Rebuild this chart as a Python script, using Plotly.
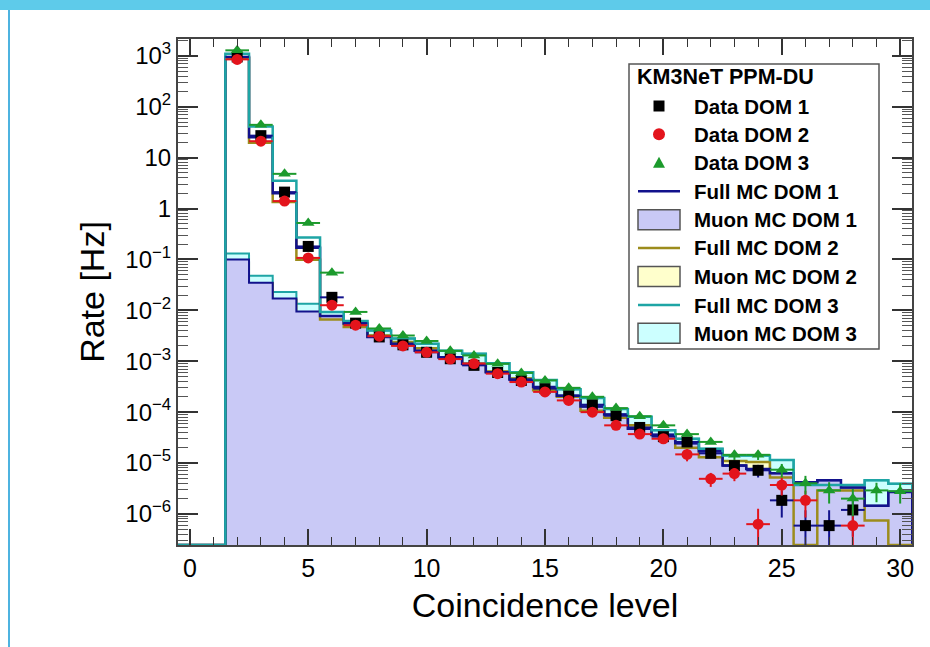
import numpy as np
import plotly.graph_objects as go

# ---------------- data (bin centres = coincidence level) ----------------
levels = list(range(31))

data_dom1 = [None, None, 950, 27, 2.1, 0.18, 0.018, 0.0056, 0.0030, 0.0021, 0.0015,
             0.00112, 0.00083, 0.00060, 0.00042, 0.00029, 0.00021, 0.00014, 8.5e-5, 5.0e-5, 3.3e-5,
             2.6e-5, 1.55e-5, 8.9e-6, 7.2e-6, 1.85e-6, 5.9e-7, 5.9e-7, 1.2e-6, None, None]
data_dom2 = [None, None, 850, 21, 1.4, 0.107, 0.0126, 0.0051, 0.0031, 0.0020, 0.0015,
             0.0011, 0.00090, 0.00057, 0.00039, 0.00025, 0.00017, 0.00010, 5.5e-5, 3.7e-5, 3.0e-5,
             1.48e-5, 4.9e-6, 6.2e-6, 6.3e-7, 3.7e-6, 1.85e-6, None, 5.9e-7, None, None]
data_dom3 = [None, None, 1280, 44, 4.8, 0.52, 0.055, 0.0093, 0.0044, 0.0032, 0.0025,
             0.0016, 0.0013, 0.00089, 0.00059, 0.00042, 0.00030, 0.00020, 0.00012, 8.3e-5, 5.5e-5,
             3.7e-5, 2.6e-5, 1.45e-5, 1.45e-5, 7.4e-6, 4.0e-6, 2.9e-6, 2.0e-6, 2.9e-6, 2.8e-6]

err_dom1 = [0, 0, 0, 0, 0, 0, 0, 0, 0, 0, 0,
            0, 0, 0, 0, 0, 0, 0, 0, 0, 0,
            0, 3.0e-6, 2.3e-6, 2.0e-6, 1.0e-6, 5.9e-7, 5.9e-7, 8.4e-7, 0, 0]
err_dom2 = [0, 0, 0, 0, 0, 0, 0, 0, 0, 0, 0,
            0, 0, 0, 0, 0, 0, 0, 0, 0, 0,
            4.0e-6, 1.5e-6, 1.8e-6, 6.3e-7, 1.4e-6, 1.0e-6, 0, 5.9e-7, 0, 0]
err_dom3 = [0, 0, 0, 0, 0, 0, 0, 0, 0, 0, 0,
            0, 0, 0, 0, 0, 0, 0, 0, 0, 0,
            0, 0, 3.0e-6, 3.0e-6, 2.2e-6, 1.6e-6, 1.3e-6, 1.1e-6, 1.2e-6, 1.2e-6]

full_mc_dom1 = [0, 0, 950, 25, 2.0, 0.17, 0.0077, 0.0055, 0.0030, 0.0022, 0.0016,
                0.0012, 0.00088, 0.00061, 0.00044, 0.00031, 0.00021, 0.000129, 9.0e-5, 4.7e-5, 3.6e-5,
                2.45e-5, 1.7e-5, 8.9e-6, 7.6e-6, 6.3e-6, 4.2e-6, 4.6e-6, 3.3e-6, 1.45e-6, 2.7e-6]
full_mc_dom2 = [0, 0, 900, 19.5, 1.35, 0.098, 0.0066, 0.0047, 0.0032, 0.0024, 0.0018,
                0.0012, 0.00089, 0.00063, 0.00046, 0.00027, 0.00020, 0.000107, 7.8e-5, 5.5e-5, 3.5e-5,
                2.0e-5, 1.3e-5, 1.1e-5, 1.05e-5, 5.2e-6, 0, 2.9e-6, 2.9e-6, 7.4e-7, 0]
full_mc_dom3 = [0, 0, 1100, 41, 3.5, 0.27, 0.0093, 0.0062, 0.0040, 0.0028, 0.0022,
                0.0016, 0.0014, 0.00091, 0.00061, 0.00043, 0.00028, 0.00019, 0.000115, 8.1e-5, 4.4e-5,
                3.0e-5, 1.9e-5, 1.4e-5, 1.4e-5, 1.15e-5, 3.7e-6, 3.7e-6, 3.7e-6, 4.6e-6, 3.9e-6]

muon_mc_dom1 = [0, 0, 0.10, 0.035, 0.017, 0.0095, 0.0077, 0.0055, 0.0030, 0.0022, 0.0016,
                0.0012, 0.00088, 0.00061, 0.00044, 0.00031, 0.00021, 0.000129, 9.0e-5, 4.7e-5, 3.6e-5,
                2.45e-5, 1.7e-5, 8.9e-6, 7.6e-6, 6.3e-6, 4.2e-6, 4.6e-6, 3.3e-6, 1.45e-6, 2.7e-6]
muon_mc_dom2 = [0, 0, 0.095, 0.034, 0.016, 0.009, 0.0066, 0.0047, 0.0032, 0.0024, 0.0018,
                0.0012, 0.00089, 0.00063, 0.00046, 0.00027, 0.00020, 0.000107, 7.8e-5, 5.5e-5, 3.5e-5,
                2.0e-5, 1.3e-5, 1.1e-5, 1.05e-5, 5.2e-6, 0, 2.9e-6, 2.9e-6, 7.4e-7, 0]
muon_mc_dom3 = [0, 0, 0.13, 0.048, 0.023, 0.0135, 0.0093, 0.0062, 0.0040, 0.0028, 0.0022,
                0.0016, 0.0014, 0.00091, 0.00061, 0.00043, 0.00028, 0.00019, 0.000115, 8.1e-5, 4.4e-5,
                3.0e-5, 1.9e-5, 1.4e-5, 1.4e-5, 1.15e-5, 3.7e-6, 3.7e-6, 3.7e-6, 4.6e-6, 3.9e-6]

x_tick_vals = [0, 5, 10, 15, 20, 25, 30]
y_tick_vals = [1e-6, 1e-5, 1e-4, 1e-3, 1e-2, 1e-1, 1, 10, 1e2, 1e3]
y_tick_text = ["10<sup>\u22126</sup>", "10<sup>\u22125</sup>", "10<sup>\u22124</sup>",
               "10<sup>\u22123</sup>", "10<sup>\u22122</sup>", "10<sup>\u22121</sup>",
               "1", "10", "10<sup>2</sup>", "10<sup>3</sup>"]

legend_title = "KM3NeT PPM-DU"
legend_labels = ["Data DOM 1", "Data DOM 2", "Data DOM 3",
                 "Full MC DOM 1", "Muon MC DOM 1", "Full MC DOM 2",
                 "Muon MC DOM 2", "Full MC DOM 3", "Muon MC DOM 3"]

# ---------------- style ----------------
W, H = 930, 647
ML, MR, MT, MB = 178, 18, 39, 102
X_RANGE = [-0.5, 30.5]
Y_RANGE = [-6.61, 3.33]

NAVY = "#12128c"
OLIVE = "#9c8c1c"
TEAL = "#1ea5a5"
RED = "#e3141c"
GREEN = "#1c9a2c"
LAV = "#c9c9f6"
LYEL = "#ffffcc"
LCYA = "#ccffff"
FONT = "Liberation Sans, Arial, Helvetica, sans-serif"

edges = np.arange(X_RANGE[0], X_RANGE[1] + 0.001, 1.0)
floor_line = 10 ** Y_RANGE[0]
floor_fill = 10 ** (Y_RANGE[0] - 1)


def steps(vals, floor):
    xs, ys = [], []
    for i, v in enumerate(vals):
        v = v if v > 0 else floor
        xs += [edges[i], edges[i + 1]]
        ys += [v, v]
    return xs, ys


fig = go.Figure()

# muon MC filled histograms (drawn first)
for vals, fc, lc in [(muon_mc_dom3, LCYA, TEAL), (muon_mc_dom2, LYEL, OLIVE), (muon_mc_dom1, LAV, NAVY)]:
    xs, ys = steps(vals, floor_fill)
    xs = xs + [edges[-1], edges[0]]
    ys = ys + [floor_fill, floor_fill]
    fig.add_trace(go.Scatter(x=xs, y=ys, mode="lines", fill="toself", fillcolor=fc,
                             line=dict(color=lc, width=2), showlegend=False, hoverinfo="skip"))

# full MC step lines
for vals, lc in [(full_mc_dom2, OLIVE), (full_mc_dom1, NAVY), (full_mc_dom3, TEAL)]:
    xs, ys = steps(vals, floor_line)
    fig.add_trace(go.Scatter(x=xs, y=ys, mode="lines", line=dict(color=lc, width=2.5),
                             showlegend=False))

# data points
for vals, errs, mc, ec, sym in [
        (data_dom1, err_dom1, "black", NAVY, "square"),
        (data_dom2, err_dom2, RED, RED, "circle"),
        (data_dom3, err_dom3, GREEN, GREEN, "triangle-up")]:
    fig.add_trace(go.Scatter(
        x=levels, y=vals, mode="markers", showlegend=False,
        marker=dict(symbol=sym, size=11, color=mc, line=dict(width=0)),
        error_y=dict(type="data", array=errs, visible=True, color=ec, thickness=2, width=0),
        error_x=dict(type="constant", value=0.5, visible=True, color=ec, thickness=2, width=0)))

minor_y = [m * 10.0 ** k for k in range(-7, 4) for m in range(2, 10)]

fig.update_layout(
    width=W, height=H,
    margin=dict(l=ML, r=MR, t=MT, b=MB, pad=0),
    paper_bgcolor="white", plot_bgcolor="white",
    font=dict(family=FONT, color="black"),
    showlegend=False,
    xaxis=dict(range=X_RANGE, tickvals=x_tick_vals, ticks="inside", ticklen=16, tickwidth=1.5,
               tickcolor="#333333", showline=True, linecolor="#444444", linewidth=2, mirror="allticks",
               showgrid=False, zeroline=False, tickfont=dict(size=25, family=FONT),
               minor=dict(dtick=1, ticks="inside", ticklen=8, tickwidth=1.2, tickcolor="#333333", showgrid=False),
               title=dict(text="Coincidence level", font=dict(size=34, family=FONT), standoff=12)),
    yaxis=dict(type="log", range=Y_RANGE, tickvals=y_tick_vals, ticktext=y_tick_text,
               ticks="inside", ticklen=20, tickwidth=1.5, tickcolor="#333333",
               showline=True, linecolor="#444444", linewidth=2, mirror="allticks",
               showgrid=False, zeroline=False, tickfont=dict(size=24, family=FONT),
               minor=dict(tickvals=minor_y, ticks="inside", ticklen=10, tickwidth=1.2,
                          tickcolor="#555555", showgrid=False),
               title=dict(text="Rate [Hz]", font=dict(size=34, family=FONT), standoff=10)),
)

pw, ph = W - ML - MR, H - MT - MB
def px2x(px): return (px - ML) / pw
def py2y(py): return (H - MB - py) / ph

# ---------------- hand-built legend (ROOT TLegend look) ----------------
LX0, LX1, LY0, LY1 = 629, 879, 64, 349
fig.add_shape(type="rect", xref="paper", yref="paper", x0=px2x(LX0), x1=px2x(LX1),
              y0=py2y(LY1), y1=py2y(LY0), fillcolor="white",
              line=dict(color="#555555", width=1.5), layer="above")
fig.add_annotation(xref="paper", yref="paper", x=px2x(635), y=py2y(77), xanchor="left", yanchor="middle",
                   text="<b>%s</b>" % legend_title, showarrow=False,
                   font=dict(size=21.5, family=FONT, color="black"))
row_y = [106, 134.3, 162.7, 191.3, 219.7, 248, 276.5, 305, 333.3]
SX, TX = 659, 692
for lab, ry in zip(legend_labels, row_y):
    fig.add_annotation(xref="paper", yref="paper", x=px2x(TX), y=py2y(ry), xanchor="left", yanchor="middle",
                       text="<b>%s</b>" % lab, showarrow=False,
                       font=dict(size=20.5, family=FONT, color="black"))

def pix_shape(kind, cy, x0, x1, y0, y1, **kw):
    fig.add_shape(type=kind, xref="paper", yref="paper", xsizemode="pixel", ysizemode="pixel",
                  xanchor=px2x(SX), yanchor=py2y(cy), x0=x0, x1=x1, y0=y0, y1=y1,
                  layer="above", **kw)

# data markers
pix_shape("rect", row_y[0], -5.5, 5.5, -5.5, 5.5, fillcolor="black", line=dict(width=0))
pix_shape("circle", row_y[1], -6, 6, -6, 6, fillcolor=RED, line=dict(width=0))
fig.add_shape(type="path", xref="paper", yref="paper", xsizemode="pixel", ysizemode="pixel",
              xanchor=px2x(SX), yanchor=py2y(row_y[2]), path="M-6,-5 L6,-5 L0,6 Z",
              fillcolor=GREEN, line=dict(width=0), layer="above")
# full MC lines
for ry, lc in [(row_y[3], NAVY), (row_y[5], OLIVE), (row_y[7], TEAL)]:
    pix_shape("line", ry, -21, 21, 0, 0, line=dict(color=lc, width=2.5))
# muon MC boxes
for ry, fc in [(row_y[4], LAV), (row_y[6], LYEL), (row_y[8], LCYA)]:
    pix_shape("rect", ry, -21, 21, -10, 10, fillcolor=fc, line=dict(color="#555555", width=1.5))

# page decoration (cyan header bar and left rule)
fig.add_shape(type="rect", xref="paper", yref="paper", x0=px2x(0), x1=px2x(W), y0=py2y(10), y1=py2y(0),
              fillcolor="#5ecbea", line=dict(width=0), layer="above")
fig.add_shape(type="line", xref="paper", yref="paper", x0=px2x(9), x1=px2x(9), y0=py2y(10), y1=py2y(H),
              line=dict(color="#4db3e0", width=2), layer="above")

fig.write_html("out.html")
